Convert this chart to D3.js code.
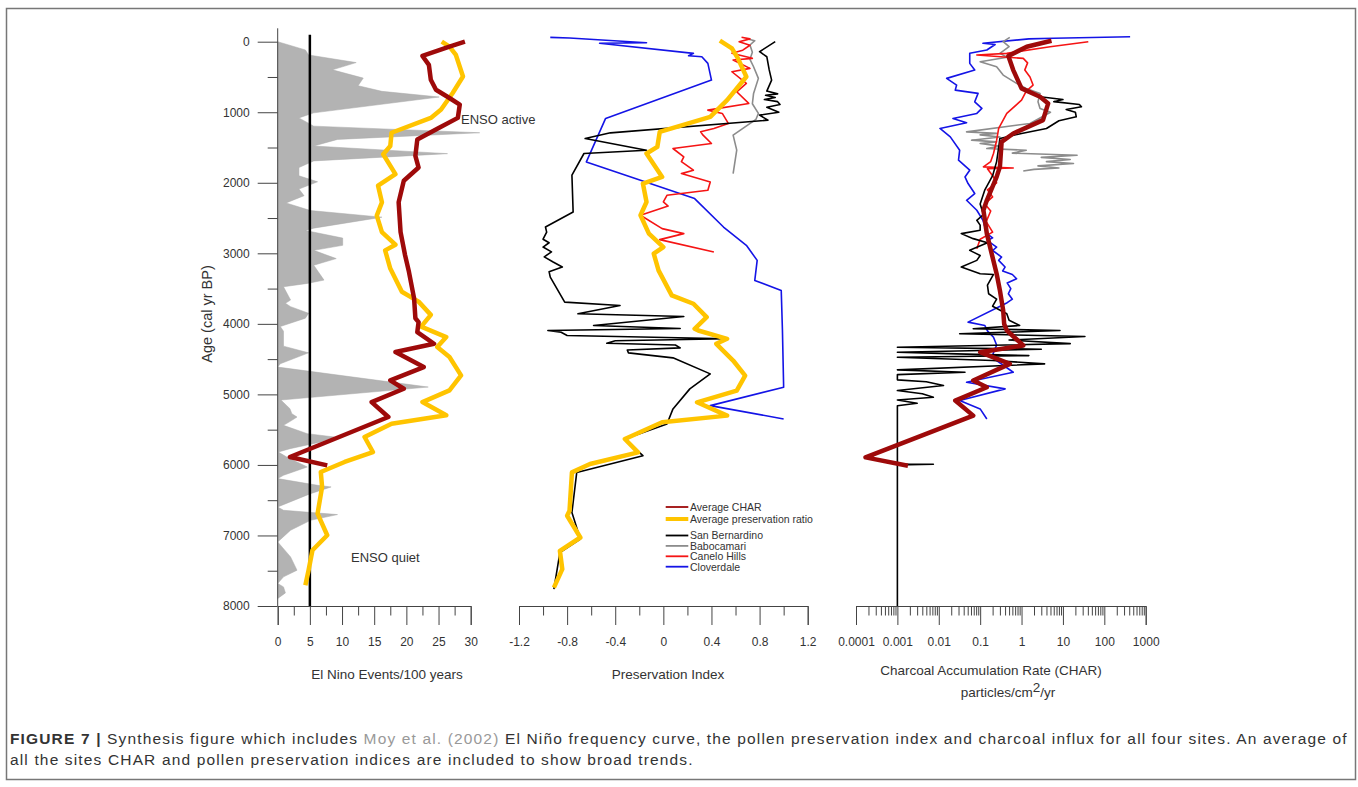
<!DOCTYPE html>
<html>
<head>
<meta charset="utf-8">
<script src="https://cdn.jsdelivr.net/npm/d3@7"></script>
<style>
body { margin: 0; background: #fff; }
text { font-family: "Liberation Sans", Arial, sans-serif; fill: #333; }
</style>
</head>
<body>
<div id="chart"></div>
<script>
// ---- data: [age (cal yr BP), value] ----
var ensoEvents = [[0,0],[117,4.3],[188,4.8],[296,12.2],[399,8.5],[516,13.3],[624,12.5],[704,16.2],[784,25.1],[1009,5.6],[1080,3.3],[1197,5.6],[1291,31.4],[1385,9.3],[1479,5.6],[1587,26.4],[1690,5.6],[1784,3.3],[1901,3.3],[1986,6.2],[2089,3.3],[2183,4.1],[2286,1.3],[2394,5.1],[2488,16.2],[2643,5.6],[2676,4.3],[2784,10.1],[2887,10.1],[2958,5.6],[3075,9.1],[3169,5.6],[3380,7.2],[3427,4.6],[3474,0.9],[3662,2],[3709,1.2],[3756,2],[3850,4.8],[3920,4.3],[4038,0.4],[4104,0.9],[4316,0.9],[4411,4.8],[4566,0.4],[4613,0],[4896,23.4],[5080,0.5],[5203,1.9],[5274,2.2],[5321,3],[5368,2.2],[5439,0.9],[5557,4.6],[5604,8.8],[5675,6.7],[5770,1.9],[5817,0.1],[5888,1.4],[6029,4.6],[6147,0.9],[6194,0],[6289,6.2],[6312,8.3],[6407,5.1],[6596,0],[6643,0.9],[6704,9.3],[6785,5.1],[6926,2],[7092,0],[7304,2],[7493,3],[7587,0.9],[7681,0],[7729,0.9],[7814,1.2],[7894,0]];
var ensoAvgChar = [[0,29.1],[70,26.7],[202,22.5],[329,23.5],[540,23.8],[681,24.6],[798,26.7],[892,28.3],[1080,28],[1221,25.1],[1385,21.7],[1620,21.4],[1784,21.9],[1972,19.6],[2277,18.8],[2700,19.1],[3028,19.8],[3263,20.4],[3638,21.2],[3920,21.4],[3975,21.9],[4117,21.7],[4282,24.3],[4400,18.3],[4613,22.7],[4802,17.5],[4920,19.6],[5109,14.6],[5321,17.2],[5888,1.9],[6006,7.7]];
var ensoAvgPres = [[0,25.5],[70,26.7],[188,27.7],[493,28.8],[728,27.2],[962,25.4],[1080,23.8],[1291,17.7],[1479,17.5],[1596,16.4],[1878,18.3],[2042,15.6],[2277,16.2],[2465,15.4],[2700,16.2],[2878,18.3],[2958,16.7],[3216,17.5],[3545,19.3],[3685,21.9],[3873,23.8],[4040,22.3],[4188,26.2],[4329,24.8],[4471,26.7],[4731,28.5],[4943,26.7],[5109,22.5],[5297,26.2],[5415,17.7],[5604,13.5],[5817,14.8],[5958,10.4],[6100,6.7],[6312,6.9],[6690,6.2],[6997,7.7],[7210,5.4],[7493,4.8],[7705,4.3]];

var presAverage = [[-14,0.47],[94,0.57],[236,0.62],[497,0.69],[828,0.53],[1065,0.39],[1278,-0.03],[1491,-0.05],[1585,-0.14],[1917,-0.01],[2011,-0.17],[2272,-0.14],[2461,-0.19],[2721,-0.12],[2911,0],[3005,-0.08],[3242,-0.04],[3597,0.07],[3715,0.25],[3905,0.36],[4070,0.26],[4094,0.29],[4212,0.53],[4283,0.44],[4520,0.58],[4733,0.68],[4946,0.61],[5112,0.28],[5301,0.53],[5396,-0.01],[5632,-0.32],[5822,-0.21],[5987,-0.61],[6106,-0.76],[6650,-0.78],[6720,-0.8],[7029,-0.69],[7218,-0.86],[7478,-0.84],[7739,-0.91]];
var presSanBernardino = [[0,0.93],[142,0.8],[213,0.86],[400,0.88],[544,0.9],[700,0.86],[740,0.95],[760,0.85],[790,0.93],[820,0.84],[850,0.95],[890,0.97],[930,0.86],[1000,0.96],[1041,0.8],[1112,0.87],[1292,-0.44],[1372,-0.65],[1538,-0.14],[1585,-0.66],[1893,-0.76],[2414,-0.75],[2627,-0.98],[2700,-0.97],[2800,-1.0],[2850,-0.95],[2911,-1.0],[2980,-0.93],[3050,-0.99],[3120,-0.92],[3195,-0.84],[3260,-0.95],[3337,-0.94],[3692,-0.82],[3739,-0.36],[3857,-0.71],[3895,0.17],[4023,-0.58],[4066,0.14],[4094,-0.96],[4120,-0.85],[4165,-0.8],[4212,0.53],[4240,-0.4],[4274,-0.47],[4300,0.1],[4340,0.14],[4370,-0.3],[4411,-0.29],[4482,0.08],[4709,0.39],[4922,0.22],[5206,0.08],[5419,0.03],[5632,-0.32],[5869,-0.17],[6106,-0.72],[6674,-0.76],[7052,-0.69],[7242,-0.86],[7762,-0.91]];
var presBabocamari = [[-34,0.71],[-14,0.76],[47,0.72],[150,0.74],[250,0.72],[355,0.75],[520,0.79],[733,0.75],[880,0.74],[1017,0.79],[1100,0.77],[1325,0.58],[1538,0.61],[1869,0.58]];
var presCanelo = [[-62,0.65],[-40,0.72],[0,0.63],[50,0.72],[120,0.66],[165,0.57],[236,0.74],[260,0.58],[378,0.72],[426,0.57],[591,0.69],[710,0.61],[875,0.71],[970,0.37],[1017,0.49],[1159,0.54],[1230,0.42],[1278,0.31],[1325,0.33],[1443,0.4],[1514,0.08],[1633,0.17],[1700,0.15],[1822,0.25],[1870,0.15],[1988,0.39],[2106,0.37],[2177,0.03],[2272,0],[2330,0.04],[2461,-0.19],[2650,-0.01],[2721,0.17],[2806,-0.03],[2982,0.42]];
var presCloverdale = [[-62,-0.94],[-52,-0.78],[14,-0.14],[23,-0.53],[165,0.25],[200,0.21],[213,0.32],[307,0.37],[544,0.4],[1088,-0.48],[1704,-0.64],[2224,0.26],[2627,0.5],[2887,0.69],[3100,0.78],[3384,0.76],[3526,0.98],[4094,0.99],[4899,1.0],[5159,0.39],[5348,1.0]];

var charAverage = [[-14,5.3],[71,1.33],[203,0.48],[402,0.63],[662,1.0],[781,2.8],[875,4.4],[1112,3.3],[1301,0.63],[1420,0.33],[1775,0.3],[1917,0.25],[2248,0.145],[2390,0.12],[2721,0.145],[3005,0.19],[3289,0.25],[3526,0.3],[3810,0.36],[4000,0.38],[4094,0.44],[4200,0.7],[4307,1.1],[4402,0.1],[4567,0.52],[4804,0.068],[4899,0.145],[5088,0.025],[5301,0.068],[5893,0.00017],[6011,0.0018]];
var charSanBernardino = [[781,2.8],[820,10],[850,6],[890,25],[923,28],[960,12],[1000,20],[1065,21],[1120,8],[1230,4],[1301,1.0],[1372,0.3],[1500,0.28],[1700,0.25],[1900,0.2],[2100,0.13],[2300,0.1],[2450,0.12],[2532,0.083],[2600,0.1],[2674,0.1],[2721,0.035],[2792,0.068],[2850,0.15],[2958,0.056],[3030,0.1],[3100,0.083],[3195,0.035],[3289,0.1],[3300,0.21],[3450,0.15],[3573,0.16],[3650,0.25],[3750,0.2],[3857,0.44],[3950,0.5],[4023,0.9],[4070,0.068],[4094,8.5],[4141,0.032],[4179,34],[4230,0.5],[4280,15],[4331,0.001],[4360,3],[4402,0.001],[4425,0.027],[4450,1.5],[4473,0.001],[4520,0.2],[4567,3.6],[4652,0.001],[4686,0.043],[4720,0.001],[4794,0.001],[4820,0.005],[4875,0.013],[4946,0.001],[4990,0.004],[5041,0.0074],[5080,0.001],[5126,0.003],[5160,0.001],[5987,0.001],[5990,0.0074],[6000,0.001],[8000,0.001]];
var charBabocamari = [[-62,0.52],[0,0.36],[70,0.5],[165,0.3],[220,0.45],[284,0.1],[355,0.25],[473,0.36],[591,0.76],[662,1.3],[733,2.8],[850,2.5],[946,2.8],[1000,5],[1159,1.6],[1278,0.047],[1300,0.25],[1321,0.1],[1350,0.3],[1396,0.062],[1420,0.25],[1443,0.1],[1480,0.3],[1514,0.145],[1538,1.3],[1580,0.6],[1609,22],[1640,3],[1670,15],[1700,4],[1727,18],[1760,2.5],[1790,8],[1810,2],[1832,1.1]];
var charCanelo = [[0,41],[71,4.9],[165,0.44],[189,0.083],[236,1.1],[300,1.4],[400,1.2],[500,1.6],[615,1.9],[700,1.3],[828,1.0],[1017,0.44],[1230,0.28],[1400,0.25],[1585,0.21],[1700,0.18],[1775,0.12],[1790,0.63],[1800,0.15],[1900,0.2],[2000,0.25],[2100,0.15],[2200,0.2],[2300,0.13],[2400,0.18],[2550,0.14],[2700,0.2],[2800,0.1],[2934,0.083]];
var charCloverdale = [[-71,420],[-48,5.9],[-40,1.5],[23,0.117],[40,0.23],[118,0.145],[165,0.056],[307,0.056],[402,0.074],[520,0.0155],[615,0.027],[686,0.025],[733,0.089],[852,0.074],[946,0.11],[1017,0.083],[1088,0.022],[1150,0.047],[1230,0.0107],[1349,0.019],[1538,0.032],[1680,0.03],[1822,0.056],[1917,0.043],[2011,0.051],[2153,0.074],[2248,0.047],[2390,0.083],[2532,0.117],[2721,0.145],[2780,0.2],[2820,0.15],[2911,0.25],[2960,0.2],[3053,0.33],[3100,0.28],[3195,0.4],[3250,0.35],[3300,0.6],[3360,0.76],[3420,0.45],[3500,0.55],[3573,0.48],[3650,0.6],[3700,0.45],[3976,0.051],[4023,0.13],[4100,0.15],[4189,0.21],[4300,0.25],[4473,0.19],[4686,0.63],[4828,0.047],[4922,0.4],[5088,0.032],[5206,0.1],[5348,0.145]];

var ageTicks = [0,1000,2000,3000,4000,5000,6000,7000,8000];
var ensoTicks = [0,5,10,15,20,25,30];
var presTicks = [-1.2,-0.8,-0.4,0,0.4,0.8,1.2];
var presTickLabels = ["-1.2","-0.8","-0.4","0","0.4","0.8","1.2"];
var charTicks = [0.0001,0.001,0.01,0.1,1,10,100,1000];
var charTickLabels = ["0.0001","0.001","0.01","0.1","1","10","100","1000"];

var legendLabels = ["Average CHAR","Average preservation ratio","San Bernardino","Babocamari","Canelo Hills","Cloverdale"];

var DARKRED = "#9e0a0a", GOLD = "#ffc400", BLUE = "#1414e6", RED = "#f51414", GRAY = "#8c8c8c";
var legendColors = [DARKRED, GOLD, "#000", GRAY, RED, BLUE];

var svg = d3.select("#chart").append("svg")
    .attr("width", 1358)
    .attr("height", 787);

// figure frame
svg.append("rect")
    .attr("x", 6.5).attr("y", 8.5).attr("width", 1349).attr("height", 771)
    .style("fill", "none").style("stroke", "#777").style("stroke-width", 1.5);

var y = d3.scaleLinear().domain([0, 8000]).range([41.7, 606]);
var x1 = d3.scaleLinear().domain([0, 30]).range([277.7, 470.7]);
var x2 = d3.scaleLinear().domain([-1.2, 1.2]).range([519, 807.7]);
var x3 = d3.scaleLog().domain([0.0001, 1000]).range([856, 1145.7]);

function drawLine(xs, data, color, width) {
    var line = d3.line()
        .x(function(d) { return xs(d[1]); })
        .y(function(d) { return y(d[0]); });
    svg.append("path")
        .datum(data)
        .attr("d", line)
        .style("fill", "none")
        .style("stroke", color)
        .style("stroke-width", width)
        .style("stroke-linejoin", "round");
}

function bottomAxis(xs, major, labels, minor) {
    var g = svg.append("g").attr("transform", "translate(0,606)");
    var ax = d3.axisBottom(xs).tickValues(major).tickSize(19).tickPadding(3)
        .tickFormat(function(d, i) { return labels[i]; });
    g.call(ax);
    g.append("g").call(d3.axisBottom(xs).tickValues(minor).tickSize(9.5).tickFormat(""))
        .select(".domain").remove();
    g.selectAll("line").style("stroke", "#444");
    g.selectAll(".domain").style("stroke", "#444");
    g.selectAll("text").style("font-size", "12px").style("fill", "#333")
        .attr("font-family", null).attr("y", 31);
    return g;
}

// ---- panel 1: El Nino events ----
svg.append("path")
    .datum(ensoEvents)
    .attr("d", d3.area()
        .y(function(d) { return y(d[0]); })
        .x0(x1(0))
        .x1(function(d) { return x1(d[1]); }))
    .style("fill", "#b3b3b3")
    .style("stroke", "#a8a8a8")
    .style("stroke-width", 0.5);

svg.append("line")
    .attr("x1", x1(5)).attr("x2", x1(5))
    .attr("y1", y(-100)).attr("y2", y(8000))
    .style("stroke", "#000").style("stroke-width", 2.5);

drawLine(x1, ensoAvgPres, GOLD, 4.5);
drawLine(x1, ensoAvgChar, DARKRED, 4.5);

var yAxis = svg.append("g").attr("transform", "translate(" + x1(0) + ",0)");
yAxis.call(d3.axisLeft(y).tickValues(ageTicks).tickSize(20).tickPadding(8).tickFormat(d3.format("d")));
yAxis.append("g").call(d3.axisLeft(y).tickValues(d3.range(500, 8000, 1000)).tickSize(10).tickFormat(""))
    .select(".domain").remove();
yAxis.selectAll(".domain").remove();
yAxis.selectAll("line").style("stroke", "#444");
yAxis.selectAll("text").style("font-size", "12px").style("fill", "#333").attr("font-family", null);
svg.append("line")
    .attr("x1", x1(0)).attr("x2", x1(0))
    .attr("y1", y(-190)).attr("y2", y(8000))
    .style("stroke", "#444");

bottomAxis(x1, ensoTicks, ensoTicks.map(String), d3.range(2.5, 30, 5));

svg.append("text")
    .attr("transform", "translate(212,314) rotate(-90)")
    .attr("text-anchor", "middle")
    .style("font-size", "14.5px")
    .text("Age (cal yr BP)");

svg.append("text").attr("x", 461).attr("y", 124).style("font-size", "13px").text("ENSO active");
svg.append("text").attr("x", 351).attr("y", 562).style("font-size", "13px").text("ENSO quiet");
svg.append("text").attr("x", 387).attr("y", 679).attr("text-anchor", "middle")
    .style("font-size", "13.5px").text("El Nino Events/100 years");

// ---- panel 2: preservation index ----
drawLine(x2, presCloverdale, BLUE, 1.6);
drawLine(x2, presBabocamari, GRAY, 1.6);
drawLine(x2, presCanelo, RED, 1.6);
drawLine(x2, presSanBernardino, "#000", 1.6);
drawLine(x2, presAverage, GOLD, 4.5);

bottomAxis(x2, presTicks, presTickLabels, [-1.0, -0.6, -0.2, 0.2, 0.6, 1.0]);

svg.append("text").attr("x", 668).attr("y", 679).attr("text-anchor", "middle")
    .style("font-size", "13.5px").text("Preservation Index");

var legend = svg.append("g");
legendLabels.forEach(function(name, i) {
    var ly = i < 2 ? 507 + i * 12 : 535.5 + (i - 2) * 10.4;
    legend.append("line")
        .attr("x1", 665.7).attr("x2", 688.3).attr("y1", ly).attr("y2", ly)
        .style("stroke", legendColors[i]).style("stroke-width", i == 1 ? 4 : 1.8);
    legend.append("text")
        .attr("x", 690).attr("y", ly + 3.8)
        .style("font-size", "10.5px")
        .text(name);
});

// ---- panel 3: charcoal accumulation ----
drawLine(x3, charCloverdale, BLUE, 1.6);
drawLine(x3, charBabocamari, GRAY, 1.6);
drawLine(x3, charCanelo, RED, 1.6);
drawLine(x3, charSanBernardino, "#000", 1.6);
drawLine(x3, charAverage, DARKRED, 4.5);

var charMinor = [];
charTicks.slice(0, -1).forEach(function(t) {
    for (var k = 2; k < 10; k++) charMinor.push(t * k);
});
bottomAxis(x3, charTicks, charTickLabels, charMinor);

svg.append("text").attr("x", 991).attr("y", 675).attr("text-anchor", "middle")
    .style("font-size", "13.5px").text("Charcoal Accumulation Rate (CHAR)");
var unit = svg.append("text").attr("x", 1008).attr("y", 697).attr("text-anchor", "middle")
    .style("font-size", "13.5px");
unit.append("tspan").text("particles/cm");
unit.append("tspan").attr("dy", -5).text("2");
unit.append("tspan").attr("dy", 5).text("/yr");

// ---- caption ----
var cap1 = svg.append("text").attr("x", 10).attr("y", 744)
    .style("font-size", "15.5px").style("letter-spacing", "1.15px");
cap1.append("tspan").style("font-weight", "bold").text("FIGURE 7 | ");
cap1.append("tspan").text("Synthesis figure which includes ");
cap1.append("tspan").style("fill", "#999").text("Moy et al. (2002)");
cap1.append("tspan").text(" El Niño frequency curve, the pollen preservation index and charcoal influx for all four sites. An average of");
svg.append("text").attr("x", 10).attr("y", 765)
    .style("font-size", "15.5px").style("letter-spacing", "1.15px")
    .text("all the sites CHAR and pollen preservation indices are included to show broad trends.");
</script>
</body>
</html>
